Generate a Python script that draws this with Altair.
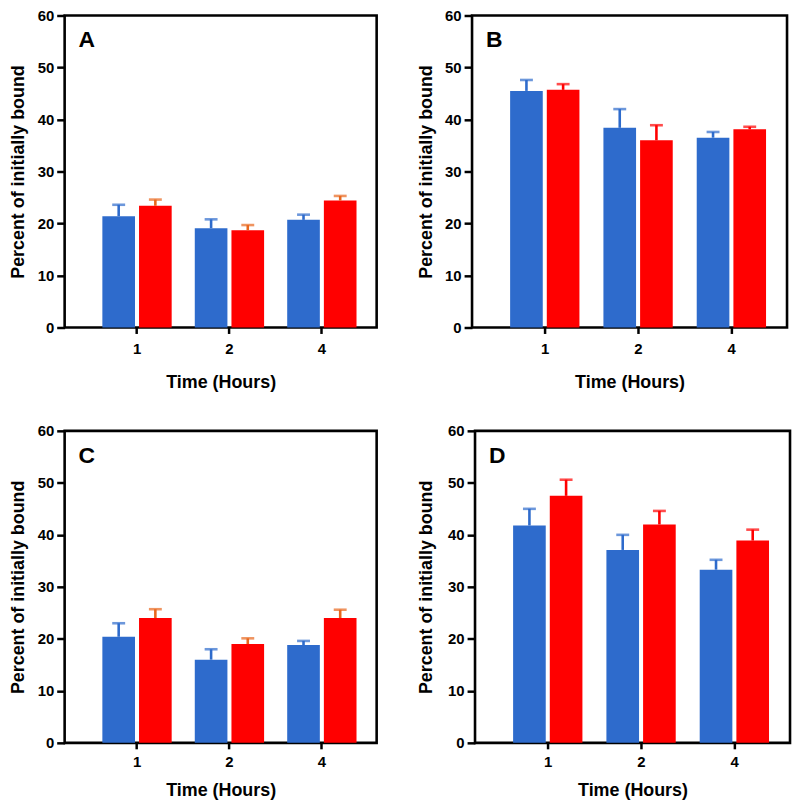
import altair as alt
import pandas as pd

times = ["1", "2", "4"]
series = ["blue", "red"]

a_blue_mean = [21.4, 19.1, 20.7]
a_blue_upper = [23.6, 20.8, 21.7]
a_red_mean = [23.4, 18.7, 24.4]
a_red_upper = [24.6, 19.7, 25.3]

b_blue_mean = [45.5, 38.4, 36.5]
b_blue_upper = [47.6, 42.0, 37.6]
b_red_mean = [45.7, 36.0, 38.1]
b_red_upper = [46.8, 38.9, 38.6]

c_blue_mean = [20.4, 16.0, 18.8]
c_blue_upper = [23.0, 18.0, 19.6]
c_red_mean = [24.0, 19.0, 24.0]
c_red_upper = [25.7, 20.1, 25.6]

d_blue_mean = [41.8, 37.1, 33.3]
d_blue_upper = [45.0, 40.0, 35.2]
d_red_mean = [47.5, 42.0, 38.9]
d_red_upper = [50.6, 44.6, 41.0]

BLUE = "#2E6BCC"
RED = "#FF0000"
ORANGE = "#E8661C"
FONT = "Liberation Sans"

H = 314


def panel(letter, bm, bu, rm, ru, red_cap, title_pad, x_label_pad, x_title_pad, width):
    rows = []
    for i, t in enumerate(times):
        rows.append({"time": t, "series": "blue", "mean": bm[i], "upper": bu[i], "ecol": BLUE})
        rows.append({"time": t, "series": "red", "mean": rm[i], "upper": ru[i], "ecol": red_cap})
    df = pd.DataFrame(rows)

    x = alt.X(
        "time:N",
        sort=times,
        scale=alt.Scale(domain=times, paddingInner=0.25, paddingOuter=0.313, align=0.652),
        axis=alt.Axis(
            title="Time (Hours)", labelAngle=0, domain=False, grid=False,
            tickSize=6, tickWidth=2.5, tickColor="black",
            labelFont=FONT, labelFontSize=15, labelFontWeight="bold", labelColor="black",
            labelPadding=x_label_pad,
            titleFont=FONT, titleFontSize=18, titleFontWeight="bold", titleColor="black",
            titlePadding=x_title_pad,
        ),
    )
    xo = alt.XOffset("series:N", sort=series,
                     scale=alt.Scale(domain=series, paddingInner=0.11, paddingOuter=0))
    y = alt.Y(
        "mean:Q",
        scale=alt.Scale(domain=[0, 60], nice=False),
        axis=alt.Axis(
            values=[0, 10, 20, 30, 40, 50, 60], domain=False, grid=False,
            tickSize=8, tickWidth=2.5, tickColor="black",
            labelFont=FONT, labelFontSize=15, labelFontWeight="bold", labelColor="black", labelPadding=3,
            title="Percent of initially bound", titleFont=FONT, titleFontSize=18,
            titleFontWeight="bold", titleColor="black", titlePadding=title_pad,
        ),
    )
    base = alt.Chart(df)
    bars = base.mark_bar().encode(
        x=x, xOffset=xo, y=y,
        color=alt.Color("series:N", scale=alt.Scale(domain=series, range=[BLUE, RED]), legend=None),
    )
    rules = base.mark_rule(strokeWidth=2.6).encode(
        x=x, xOffset=xo, y="mean:Q", y2="upper:Q",
        color=alt.Color("ecol:N", scale=None),
    )
    caps = base.mark_tick(thickness=2.6, size=13).encode(
        x=x, xOffset=xo, y="upper:Q",
        color=alt.Color("ecol:N", scale=None),
    )
    lab = alt.Chart(pd.DataFrame({"t": [letter]})).mark_text(
        align="left", baseline="alphabetic", font=FONT, fontSize=23, fontWeight="bold", color="black"
    ).encode(x=alt.value(14), y=alt.value(32), text="t:N")
    return alt.layer(bars, rules, caps, lab).resolve_scale(color="independent").properties(width=width, height=H)


pa = panel("A", a_blue_mean, a_blue_upper, a_red_mean, a_red_upper, ORANGE, 10, 8, 17, 314)
pb = panel("B", b_blue_mean, b_blue_upper, b_red_mean, b_red_upper, RED, 9, 8, 17, 317)
pc = panel("C", c_blue_mean, c_blue_upper, c_red_mean, c_red_upper, ORANGE, 10, 6, 12, 314)
pd_ = panel("D", d_blue_mean, d_blue_upper, d_red_mean, d_red_upper, RED, 12, 6, 12, 317)

chart = alt.vconcat(
    alt.hconcat(pa, pb, spacing=38),
    alt.hconcat(pc, pd_, spacing=38),
    spacing=29,
).properties(
    padding={"left": 0, "top": -4, "right": 0, "bottom": 0}
).configure(
    font=FONT
).configure_view(
    stroke="black", strokeWidth=2.6
)

chart.save("out.html", embed_options={"renderer": "svg", "actions": False})
